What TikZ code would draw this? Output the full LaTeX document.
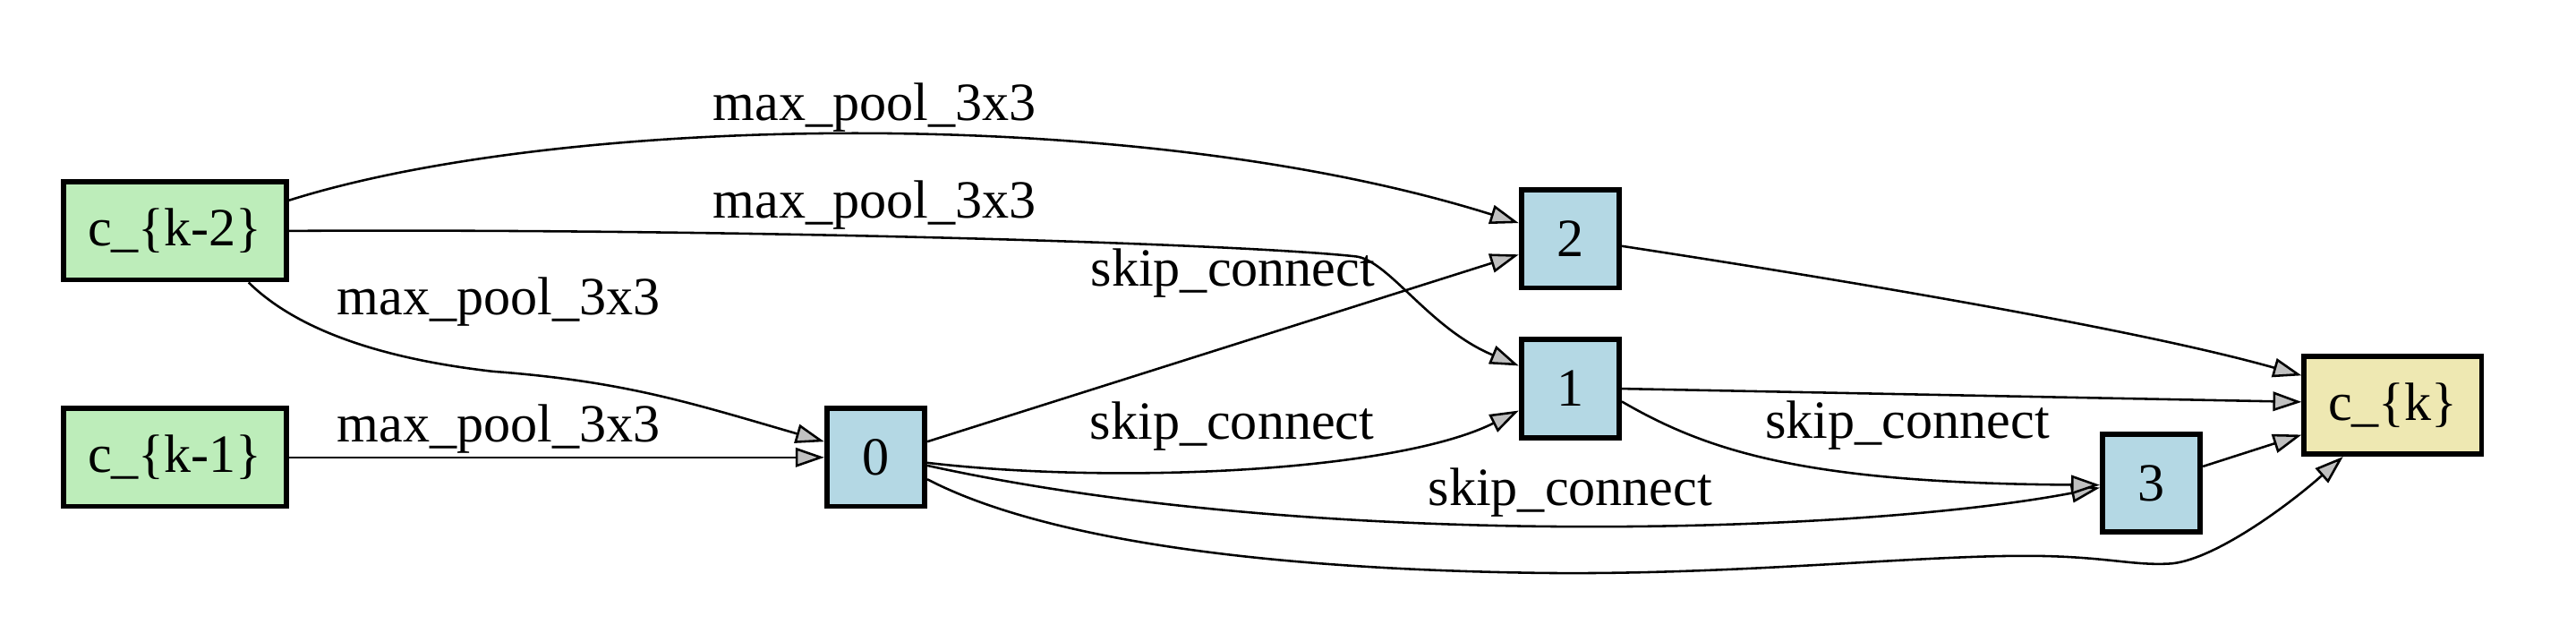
\documentclass[tikz,border=0pt]{standalone}
\usepackage{fontspec}
\setmainfont{Liberation Serif}
\usetikzlibrary{arrows.meta}
\definecolor{inpgreen}{HTML}{BDEDBA}
\definecolor{midblue}{HTML}{B4D8E4}
\definecolor{outgold}{HTML}{EEE8B2}
\definecolor{tipgray}{HTML}{C0C0C0}
\tikzset{
  cell/.style={draw, line width=1.8pt, inner sep=0pt, minimum height=34.2pt, font=\fontsize{18.8}{22}\selectfont},
  inp/.style={cell, fill=inpgreen, minimum width=77.9pt},
  mid/.style={cell, fill=midblue, minimum width=34.2pt},
  outp/.style={cell, fill=outgold, minimum width=61.9pt},
  op/.style={font=\fontsize{18.8}{22}\selectfont, inner sep=0pt, anchor=base},
  link/.style={line width=0.8pt, -{Triangle[length=10pt, width=6.7pt, fill=tipgray]}},
}
\begin{document}
\begin{tikzpicture}[x=0.5736pt, y=-0.5736pt]
                \useasboundingbox (0,0) rectangle (1568,380);
                % cells
                \node [inp] (ckm2) at (106.5,140.5) {c\_\{k-2\}};
                \node [inp] (ckm1) at (106.5,278.3) {c\_\{k-1\}};
                \node [mid] (n0) at (533.1,278.3) {0};
                \node [mid] (n2) at (955.8,145.3) {2};
                \node [mid] (n1) at (955.8,236.5) {1};
                \node [mid] (n3) at (1309.5,294) {3};
                \node [outp] (ck) at (1456.5,246.5) {c\_\{k\}};
                % ops
                \node [op] (opa) at (532.3,73.5) {max\_pool\_3x3};
                \node [op] (opb) at (532.3,132.4) {max\_pool\_3x3};
                \node [op] (opc) at (303.5,191.6) {max\_pool\_3x3};
                \node [op] (opd) at (303.5,268.6) {max\_pool\_3x3};
                \node [op] (ope) at (750.4,174.3) {skip\_connect};
                \node [op] (opf) at (750,267) {skip\_connect};
                \node [op] (opg) at (955.8,307.8) {skip\_connect};
                \node [op] (oph) at (1161,266.5) {skip\_connect};
                % edges
                \draw [link] (ckm2.15.3) .. controls (340,70) and (690,62) .. (n2.163.5);
                \draw [link] (ckm2.east) .. controls (450,139) and (750,148) .. (825,156)
                    .. controls (845,158) and (870,200) .. (n1.156.7);
                \draw [link] (ckm2.-35.3) .. controls (180,200) and (230,218) .. (300,226)
                    .. controls (380,232) and (420,245) .. (n0.163);
                \path (ckm1) edge [link] (n0);
                \path (n0.17.2) edge [link] (n2.197.2);
                \draw [link] (n0.-6.2) .. controls (680,295) and (850,287) .. (n1.203.3);
                \draw [link] (n0.-9.4) .. controls (800,335) and (1130,325) .. (n3.185);
                \draw [link] (n0.-23.2) .. controls (615,318) and (720,345) .. (930,348.5)
                    .. controls (1060,350.7) and (1180,336) .. (1250,338.5)
                    .. controls (1285,339.7) and (1300,344) .. (1320,343)
                    .. controls (1345,342) and (1390,310) .. (ck.226);
                \draw [link] (n2.-8.6) .. controls (1120,170) and (1300,200) .. (ck.162.3);
                \path (n1.east) edge [link] (ck.178);
                \draw [link] (n1.-14) .. controls (1040,275) and (1100,294) .. (n3.182);
                \path (n3.18.9) edge [link] (ck.198.5);
\end{tikzpicture}
\end{document}
